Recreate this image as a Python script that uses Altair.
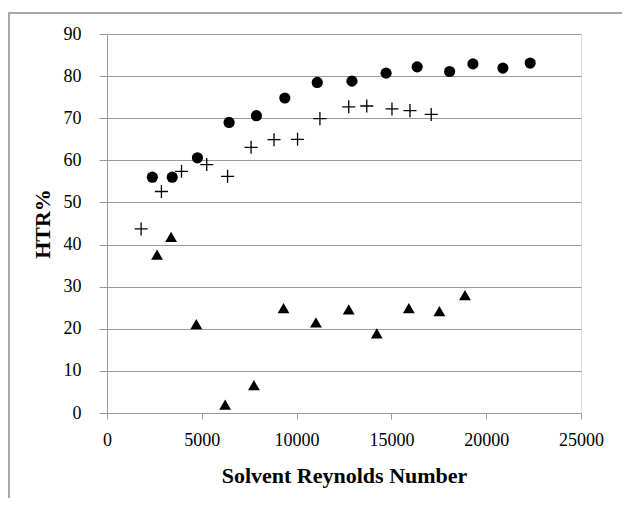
import altair as alt
import pandas as pd

# Series 1: filled circles
circle_x = [2390, 3440, 4770, 6440, 7880, 9380, 11090, 12920, 14720, 16360, 18070, 19300, 20880, 22320]
circle_y = [56.0, 56.0, 60.6, 69.0, 70.6, 74.8, 78.5, 78.8, 80.7, 82.2, 81.1, 82.9, 81.9, 83.1]

# Series 2: plus markers
plus_x = [1800, 2870, 3930, 5260, 6360, 7600, 8810, 10050, 11230, 12750, 13700, 15030, 15980, 17100]
plus_y = [43.7, 52.6, 57.4, 59.0, 56.2, 63.1, 64.9, 65.0, 69.9, 72.7, 72.9, 72.2, 71.8, 70.9]

# Series 3: filled triangles
tri_x = [2640, 3380, 4710, 6230, 7750, 9310, 11020, 12750, 14230, 15920, 17530, 18880]
tri_y = [37.6, 41.8, 21.1, 2.0, 6.6, 24.9, 21.5, 24.6, 18.9, 24.9, 24.2, 28.0]

x_ticks = [0, 5000, 10000, 15000, 20000, 25000]
y_ticks = [0, 10, 20, 30, 40, 50, 60, 70, 80, 90]

FONT = "Liberation Serif"
GRID = "#9a9a9a"

xs = alt.Scale(domain=[0, 25000], nice=False, zero=False)
ys = alt.Scale(domain=[0, 90], nice=False, zero=False)

x_axis = alt.Axis(values=x_ticks, format="d", title="Solvent Reynolds Number", grid=False,
                  tickSize=6, tickColor=GRID, domainColor=GRID,
                  labelFont=FONT, labelFontSize=18, labelColor="black", labelPadding=12,
                  titleFont=FONT, titleFontSize=22, titleFontWeight="bold", titleColor="black",
                  titlePadding=16, labelFlush=False)
y_axis = alt.Axis(values=y_ticks, format="d", title="HTR%", grid=True, gridColor=GRID,
                  tickSize=8, tickColor=GRID, domainColor=GRID,
                  labelFont=FONT, labelFontSize=18, labelColor="black", labelPadding=18,
                  titleFont=FONT, titleFontSize=22, titleFontWeight="bold", titleColor="black",
                  titlePadding=9, labelFlush=False)

df_c = pd.DataFrame({"x": circle_x, "y": circle_y})
df_p = pd.DataFrame({"x": plus_x, "y": plus_y})
df_t = pd.DataFrame({"x": tri_x, "y": tri_y})

circles = alt.Chart(df_c).mark_point(shape="circle", filled=True, color="black", size=125, opacity=1).encode(
    x=alt.X("x:Q", scale=xs, axis=x_axis),
    y=alt.Y("y:Q", scale=ys, axis=y_axis),
)
pluses = alt.Chart(df_p).mark_point(shape="M-1,0H1M0,-1V1", filled=False, color="black",
                                    size=170, strokeWidth=1.3, opacity=1).encode(
    x=alt.X("x:Q", scale=xs), y=alt.Y("y:Q", scale=ys))
tris = alt.Chart(df_t).mark_point(shape="triangle-up", filled=True, color="black", size=140, opacity=1).encode(
    x=alt.X("x:Q", scale=xs), y=alt.Y("y:Q", scale=ys))

frame_top = alt.Chart(pd.DataFrame({"a": [0]})).mark_rule(stroke="#a8a8a8", strokeWidth=2, clip=False).encode(
    x=alt.value(-99), x2=alt.value(560), y=alt.value(-21))
frame_left = alt.Chart(pd.DataFrame({"a": [0]})).mark_rule(stroke="#a8a8a8", strokeWidth=2, clip=False).encode(
    x=alt.value(-98), y=alt.value(-22), y2=alt.value(560))

chart = alt.layer(frame_top, frame_left, circles, pluses, tris).properties(
    width=474, height=379,
    autosize=alt.AutoSizeParams(type="none"),
    padding={"left": 99, "top": 26, "right": 41, "bottom": 85},
).configure_view(stroke=None).configure(background="white")

chart.save("out.html", embed_options={"renderer": "svg", "actions": False})
